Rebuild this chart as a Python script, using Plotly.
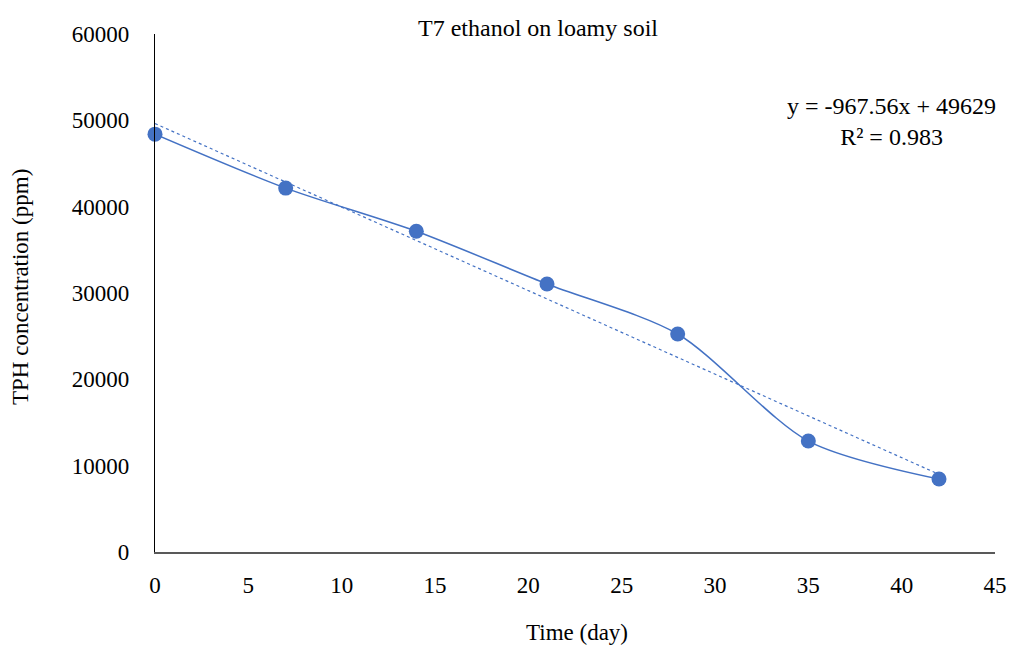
import numpy as np
import plotly.graph_objects as go

days = [0, 7, 14, 21, 28, 35, 42]
tph = [48400, 42150, 37150, 31050, 25250, 12850, 8450]
slope = -967.56
intercept = 49629
eq_text = "y = -967.56x + 49629<br>R² = 0.983"
x_ticks = [0, 5, 10, 15, 20, 25, 30, 35, 40, 45]
y_ticks = [0, 10000, 20000, 30000, 40000, 50000, 60000]

color = "#4472C4"
font = "Liberation Serif, Times New Roman, serif"

W, H = 1010, 645
L, T = 155, 34
R = W - 995
B = H - 552
pw, ph = W - L - R, H - T - B

def px(x):
    return (x - L) / pw

def py(y):
    return (H - B - y) / ph

trend_x = [days[0], days[-1]]
trend_y = [intercept + slope * x for x in trend_x]

fig = go.Figure()
fig.add_trace(go.Scatter(x=trend_x, y=trend_y, mode="lines",
                         line=dict(color=color, width=1.2, dash="dot"),
                         showlegend=False, hoverinfo="skip", cliponaxis=False))
fig.add_trace(go.Scatter(x=days, y=tph, mode="lines+markers",
                         line=dict(color=color, width=1.5, shape="spline", smoothing=0.8),
                         marker=dict(color=color, size=15),
                         showlegend=False, cliponaxis=False))

fig.update_layout(
    width=W, height=H,
    margin=dict(l=L, r=R, t=T, b=B, autoexpand=False),
    paper_bgcolor="white", plot_bgcolor="white",
    font=dict(family=font, color="black", size=23),
    xaxis=dict(range=[0, 45], tickvals=x_ticks, showgrid=False, zeroline=False,
               showline=True, linecolor="#595959", linewidth=1.5, automargin=False,
               ticks="", ticklabelstandoff=12, tickfont=dict(size=23),
               ticklabeloverflow="allow"),
    yaxis=dict(range=[0, 60000], tickvals=y_ticks, tickformat="d", showgrid=False, zeroline=False,
               showline=True, linecolor="black", linewidth=1.2, automargin=False,
               ticks="", ticklabelstandoff=20, tickfont=dict(size=23)),
    annotations=[
        dict(text="T7 ethanol on loamy soil", xref="paper", yref="paper",
             x=px(538), y=py(28), xanchor="center", yanchor="middle",
             showarrow=False, font=dict(size=24)),
        dict(text=eq_text, xref="paper", yref="paper",
             x=px(891), y=py(121), xanchor="center", yanchor="middle",
             showarrow=False, font=dict(size=24)),
        dict(text="Time (day)", xref="paper", yref="paper",
             x=px(577), y=py(632), xanchor="center", yanchor="middle",
             showarrow=False, font=dict(size=23)),
        dict(text="TPH concentration (ppm)", xref="paper", yref="paper",
             x=px(20), y=py(287), xanchor="center", yanchor="middle", textangle=-90,
             showarrow=False, font=dict(size=23)),
    ],
)

fig.write_html("out.html", config={"displayModeBar": False},
               post_script="document.body.style.margin='0';document.body.style.overflow='hidden';")
